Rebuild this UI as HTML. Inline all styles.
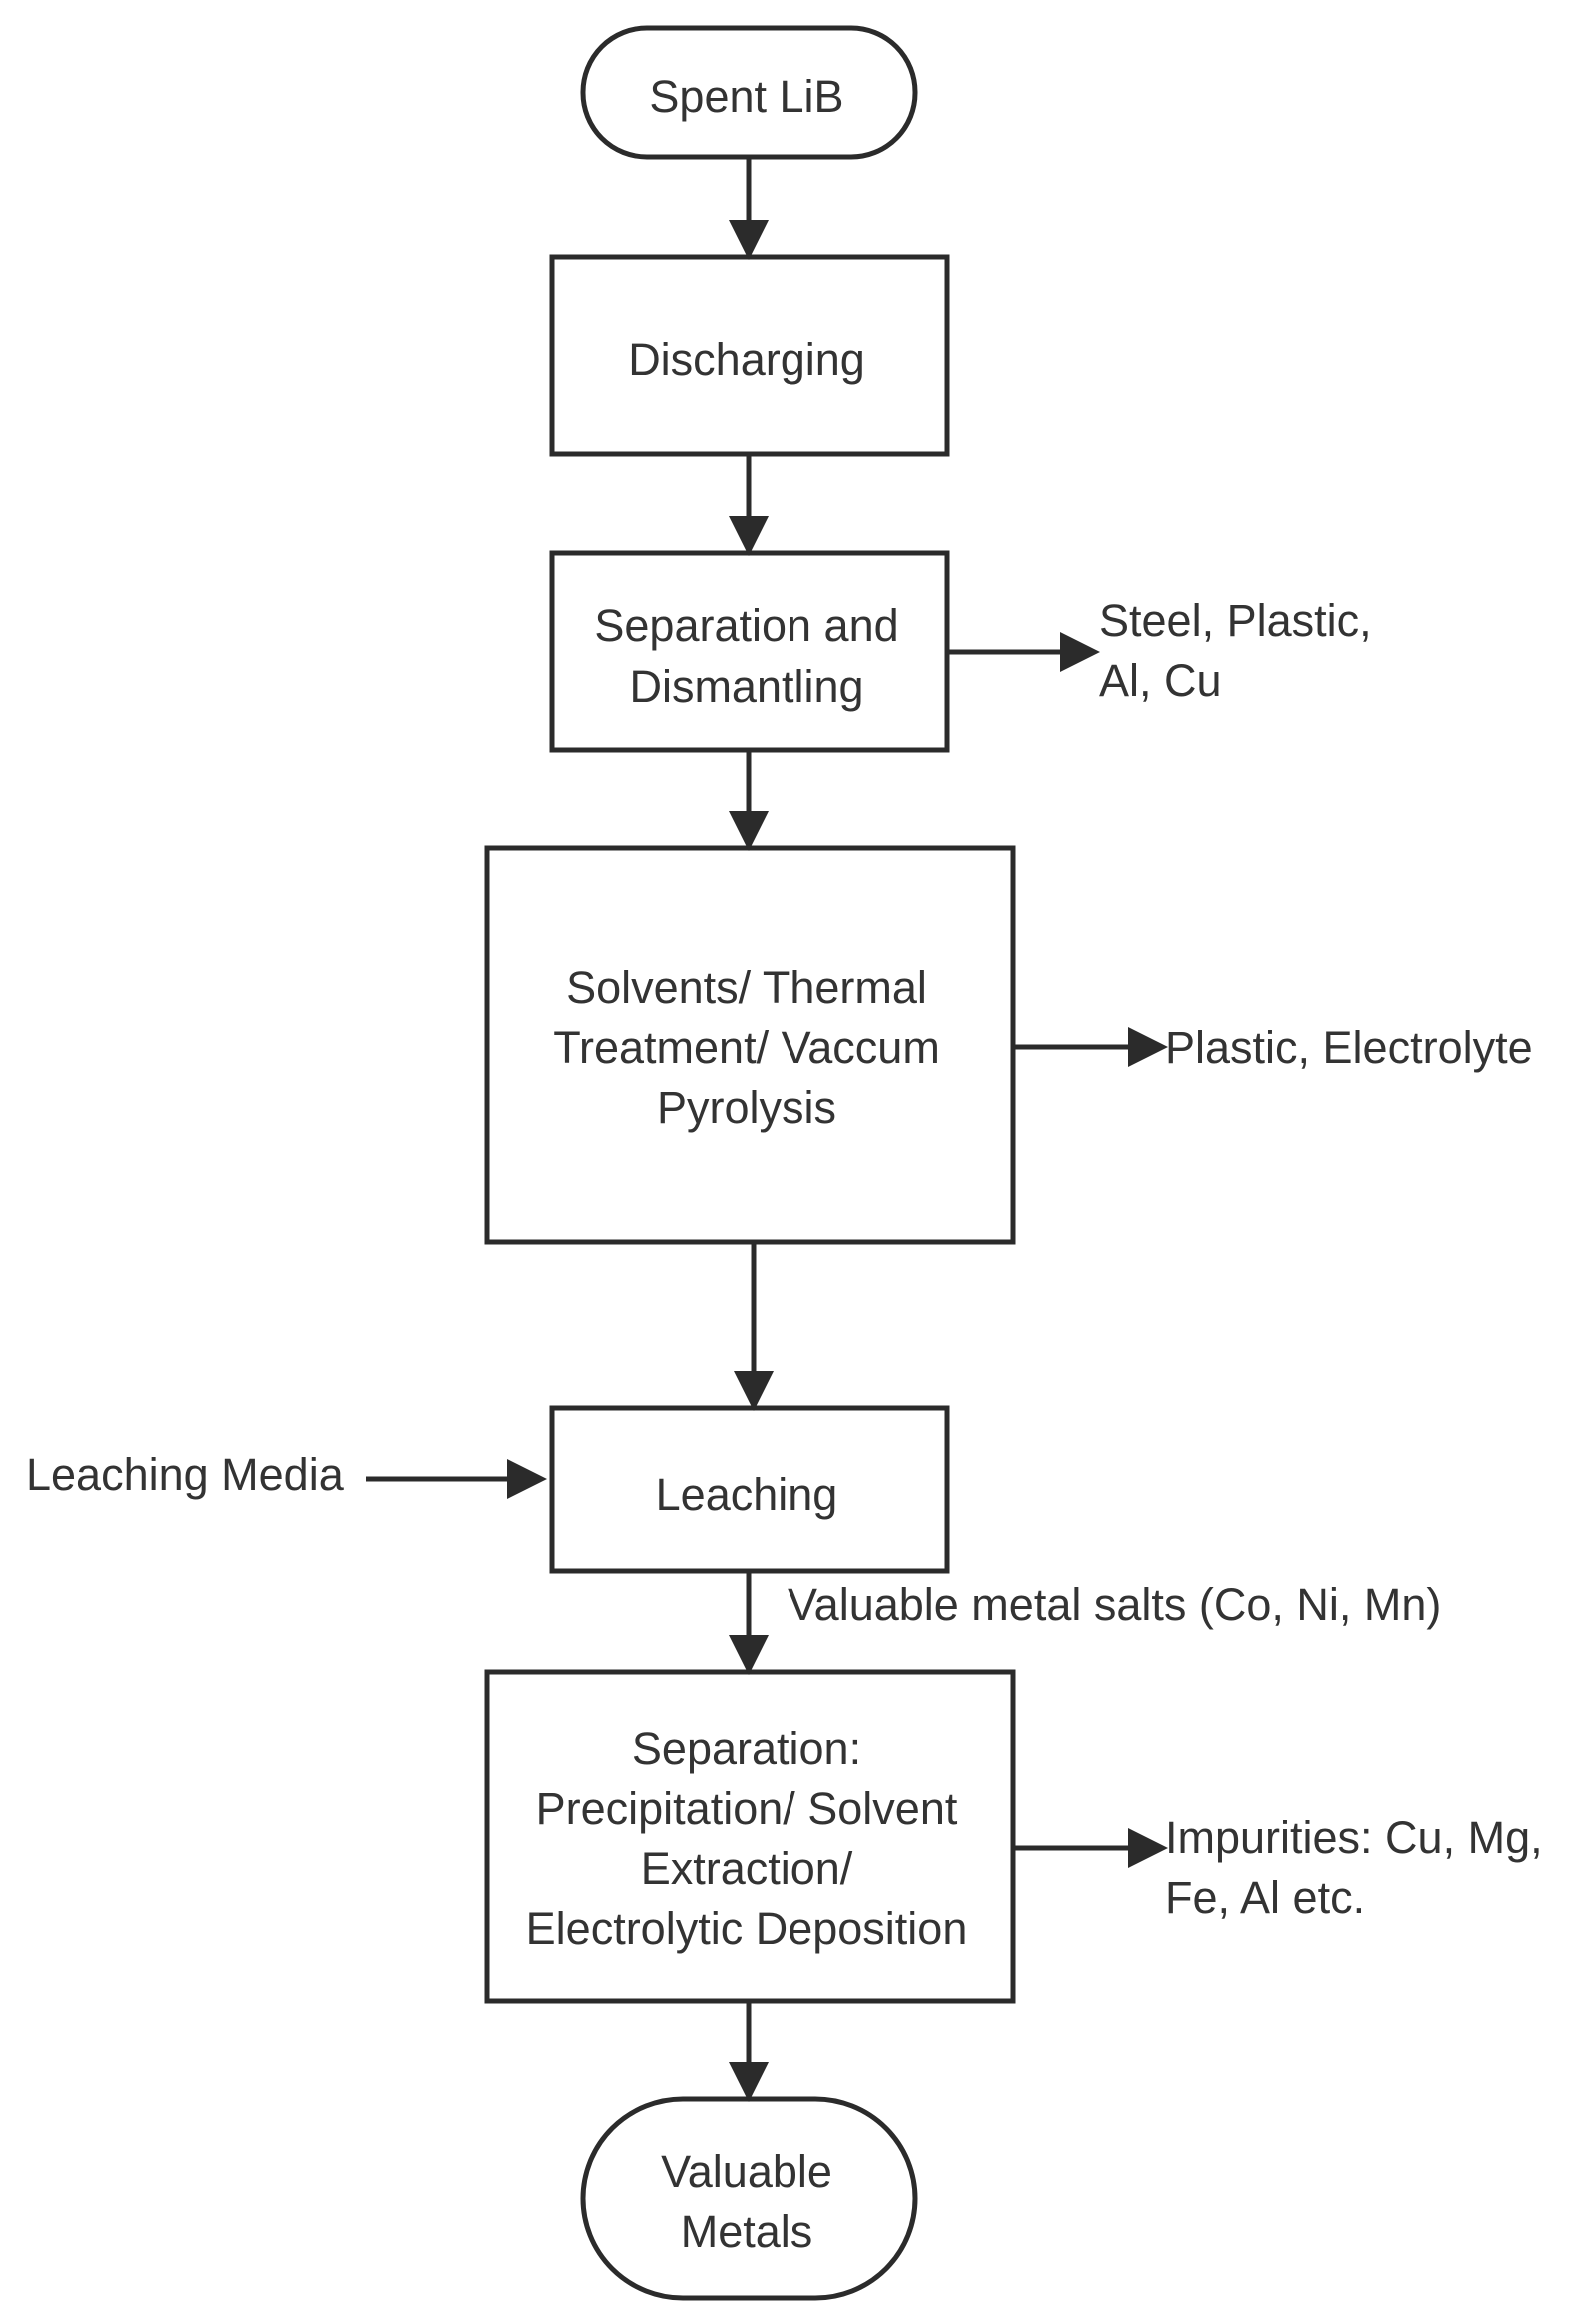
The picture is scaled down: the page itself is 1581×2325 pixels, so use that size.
<!DOCTYPE html>
<html><head><meta charset="utf-8"><style>
html,body{margin:0;padding:0;background:#fff;}
svg{display:block;}
text{font-family:"Liberation Sans",sans-serif;font-size:45px;fill:#333;}
</style></head><body>
<svg width="1581" height="2325" viewBox="0 0 1581 2325" xmlns="http://www.w3.org/2000/svg">
<defs>
<marker id="a" markerWidth="8" markerHeight="8" refX="7" refY="4" orient="auto" markerUnits="strokeWidth">
<path d="M0,0 L8,4 L0,8 Z" fill="#2b2b2b"/>
</marker>
</defs>
<g fill="none" stroke="#2b2b2b" stroke-width="5">
<rect x="583" y="28" width="333" height="129" rx="64"/>
<rect x="552" y="257" width="396" height="197"/>
<rect x="552" y="553" width="396" height="197"/>
<rect x="487" y="848" width="527" height="395"/>
<rect x="552" y="1409" width="396" height="163"/>
<rect x="487" y="1673" width="527" height="329"/>
<rect x="583" y="2100" width="333" height="199" rx="100"/>
</g>
<g stroke="#2b2b2b" stroke-width="5" marker-end="url(#a)">
<line x1="749" y1="157" x2="749" y2="255"/>
<line x1="749" y1="454" x2="749" y2="551"/>
<line x1="749" y1="750" x2="749" y2="846"/>
<line x1="754" y1="1243" x2="754" y2="1407"/>
<line x1="749" y1="1572" x2="749" y2="1671"/>
<line x1="749" y1="2002" x2="749" y2="2098"/>
<line x1="948" y1="652" x2="1096" y2="652"/>
<line x1="1014" y1="1047" x2="1164" y2="1047"/>
<line x1="1014" y1="1849" x2="1164" y2="1849"/>
<line x1="366" y1="1480" x2="542" y2="1480"/>
</g>
<g text-anchor="middle">
<text x="747" y="112">Spent LiB</text>
<text x="747" y="375">Discharging</text>
<text x="747" y="641">Separation and</text>
<text x="747" y="702">Dismantling</text>
<text x="747" y="1003">Solvents/ Thermal</text>
<text x="747" y="1063">Treatment/ Vaccum</text>
<text x="747" y="1123">Pyrolysis</text>
<text x="747" y="1511">Leaching</text>
<text x="747" y="1765">Separation:</text>
<text x="747" y="1825">Precipitation/ Solvent</text>
<text x="747" y="1885">Extraction/</text>
<text x="747" y="1945">Electrolytic Deposition</text>
<text x="747" y="2188">Valuable</text>
<text x="747" y="2248">Metals</text>
</g>
<text x="1100" y="636">Steel, Plastic,</text>
<text x="1100" y="696">Al, Cu</text>
<text x="1166" y="1063">Plastic, Electrolyte</text>
<text x="26" y="1491">Leaching Media</text>
<text x="788" y="1621">Valuable metal salts (Co, Ni, Mn)</text>
<text x="1166" y="1854">Impurities: Cu, Mg,</text>
<text x="1166" y="1914">Fe, Al etc.</text>
</svg>
</body></html>
